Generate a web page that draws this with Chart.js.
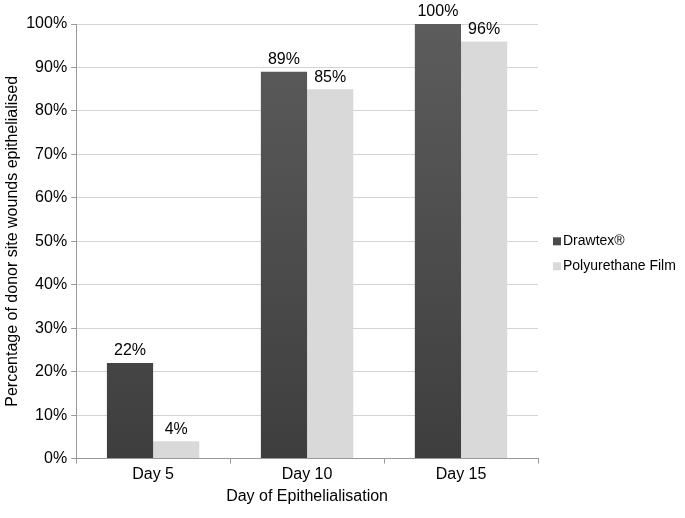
<!DOCTYPE html>
<html>
<head>
<meta charset="utf-8">
<script src="https://cdn.jsdelivr.net/npm/chart.js@4"></script>
<style>
  html, body { margin: 0; padding: 0; background: #fff; }
  #wrap { width: 685px; height: 518px; }
</style>
</head>
<body>
<div id="wrap"><canvas id="woundChart"></canvas></div>
<script>
const days = ['Day 5', 'Day 10', 'Day 15'];
const drawtex = [22, 89, 100];
const polyurethane = [4, 85, 96];
const yTicks = [0, 10, 20, 30, 40, 50, 60, 70, 80, 90, 100];

const FONT = 'Liberation Sans, Arial, sans-serif';
const legendSwatch = ['#4a4a4a', '#d9d9d9'];

// dark bars fade a little toward the bottom
function darkGradient(ctx) {
  const area = ctx.chart.chartArea;
  if (!area) return '#555';
  const g = ctx.chart.ctx.createLinearGradient(0, area.top, 0, area.bottom);
  g.addColorStop(0, '#5c5c5c');
  g.addColorStop(1, '#3e3e3e');
  return g;
}

// percentage labels above each bar
const barLabels = {
  id: 'barLabels',
  afterDatasetsDraw(chart) {
    const c = chart.ctx;
    c.save();
    c.font = '16px ' + FONT;
    c.fillStyle = '#000';
    c.textAlign = 'center';
    c.textBaseline = 'bottom';
    chart.data.datasets.forEach((ds, i) => {
      chart.getDatasetMeta(i).data.forEach((bar, j) => {
        c.fillText(ds.data[j] + '%', bar.x, bar.y - 4);
      });
    });
    c.restore();
  }
};

// small legend to the right of the plot, like the excel one
const sideLegend = {
  id: 'sideLegend',
  afterDraw(chart) {
    const c = chart.ctx;
    const area = chart.chartArea;
    const x = area.right + 15;
    const mid = (area.top + area.bottom) / 2;
    c.save();
    c.font = '14px ' + FONT;
    c.textBaseline = 'middle';
    chart.data.datasets.forEach((ds, i) => {
      const y = mid + i * 25;
      c.fillStyle = legendSwatch[i];
      c.fillRect(x, y - 4, 8, 8);
      c.fillStyle = '#000';
      c.fillText(ds.label, x + 10, y);
    });
    c.restore();
  }
};

new Chart(document.getElementById('woundChart'), {
  type: 'bar',
  data: {
    labels: days,
    datasets: [{
      label: 'Drawtex®',
      data: drawtex,
      backgroundColor: darkGradient,
      categoryPercentage: 0.6,
      barPercentage: 1
    }, {
      label: 'Polyurethane Film',
      data: polyurethane,
      backgroundColor: '#d9d9d9',
      categoryPercentage: 0.6,
      barPercentage: 1
    }]
  },
  options: {
    responsive: true,
    maintainAspectRatio: false,
    animation: false,
    layout: { padding: { top: 24, right: 147, left: 0, bottom: 12 } },
    plugins: {
      tooltip: { enabled: false },
      legend: { display: false }
    },
    scales: {
      x: {
        grid: {
          offset: true,
          drawOnChartArea: false,
          tickLength: 5,
          tickColor: '#999'
        },
        border: { color: '#999' },
        ticks: { color: '#000', font: { family: FONT, size: 16 }, padding: 1 },
        title: {
          display: true,
          text: 'Day of Epithelialisation',
          color: '#000',
          font: { family: FONT, size: 16 },
          padding: { top: 2, bottom: 0 }
        }
      },
      y: {
        min: 0,
        max: 100,
        afterBuildTicks: axis => { axis.ticks = yTicks.map(v => ({ value: v })); },
        grid: { color: '#d4d4d4', tickLength: 5, tickColor: '#999' },
        border: { color: '#999' },
        ticks: {
          color: '#000',
          font: { family: FONT, size: 16 },
          padding: 4,
          callback: v => v + '%'
        },
        title: {
          display: true,
          text: 'Percentage of donor site wounds epithelialised',
          color: '#000',
          font: { family: FONT, size: 16 },
          padding: { top: 3, bottom: 0 }
        }
      }
    }
  },
  plugins: [barLabels, sideLegend]
});
</script>
</body>
</html>
